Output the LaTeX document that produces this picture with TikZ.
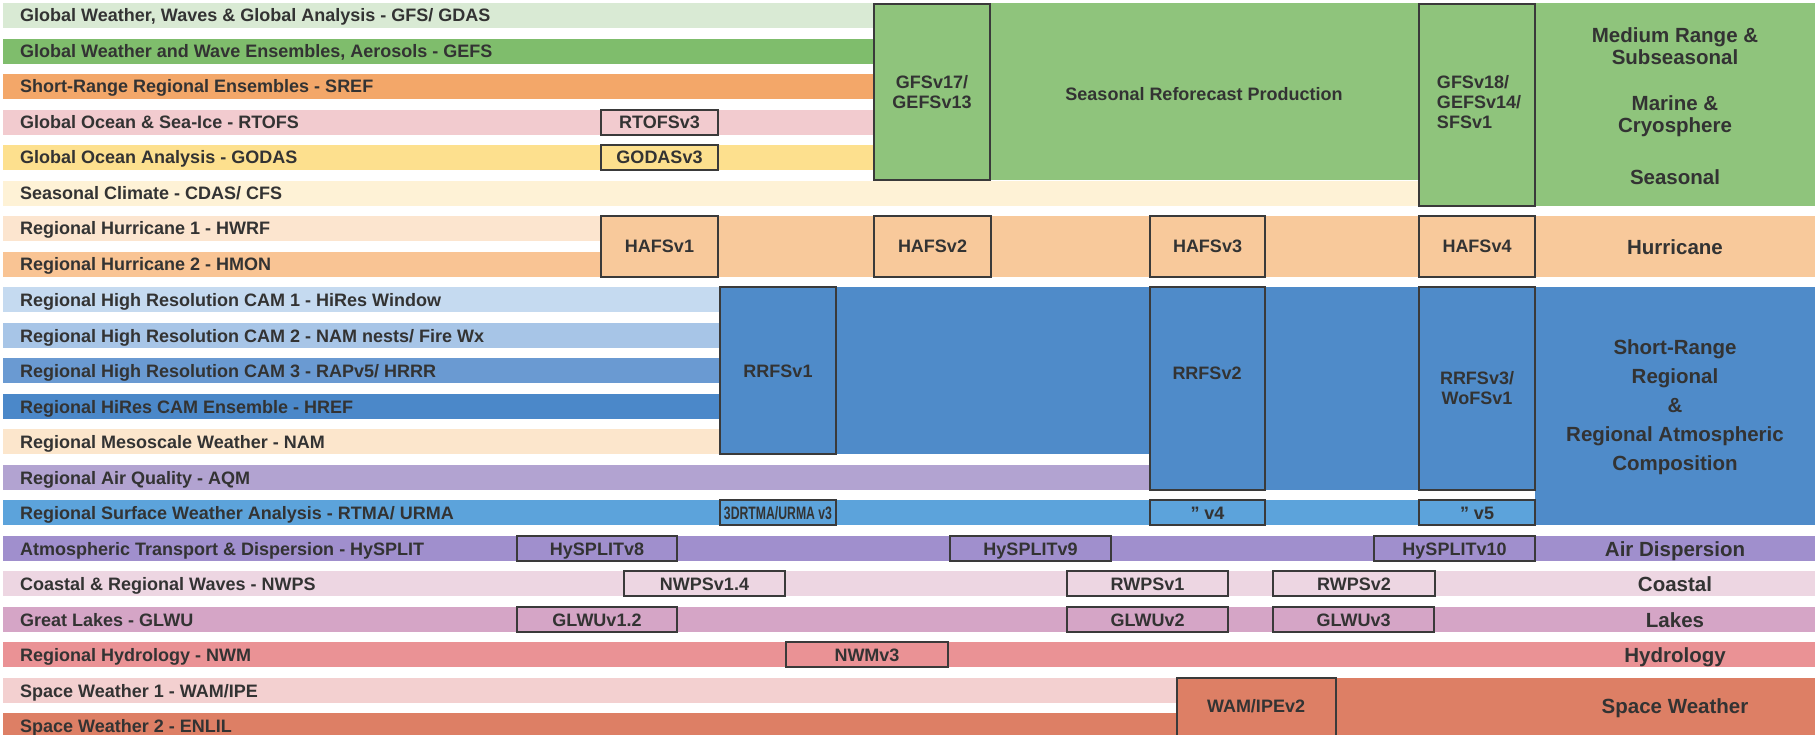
\documentclass[tikz,border=0pt]{standalone}
\usepackage{fontspec}
\setmainfont{Liberation Sans}
\usepackage{graphicx}
\usepackage{tikz}
\usetikzlibrary{fit}

\definecolor{txt}{HTML}{333333}
\definecolor{edge}{HTML}{3A3A3A}
\definecolor{cGfs}{HTML}{D9EAD4}
\definecolor{cGefs}{HTML}{7FBD6C}
\definecolor{cSref}{HTML}{F3A769}
\definecolor{cRtofs}{HTML}{F2CBCF}
\definecolor{cGodas}{HTML}{FDE08E}
\definecolor{cCfs}{HTML}{FEF2D6}
\definecolor{cHwrf}{HTML}{FCE5CF}
\definecolor{cHmon}{HTML}{F9C494}
\definecolor{cHires}{HTML}{C5DAF0}
\definecolor{cNest}{HTML}{A7C5E7}
\definecolor{cRap}{HTML}{6A9AD2}
\definecolor{cHref}{HTML}{4B88C9}
\definecolor{cNam}{HTML}{FCE6CC}
\definecolor{cAqm}{HTML}{B2A3D1}
\definecolor{cRtma}{HTML}{5CA3DB}
\definecolor{cHysplit}{HTML}{A08FCD}
\definecolor{cNwps}{HTML}{EDD6E2}
\definecolor{cGlwu}{HTML}{D5A5C6}
\definecolor{cNwm}{HTML}{EA9295}
\definecolor{cWam}{HTML}{F3D0D0}
\definecolor{cEnlil}{HTML}{DD7F65}
\definecolor{cGreen}{HTML}{8FC47C}
\definecolor{cPeach}{HTML}{F8C99B}
\definecolor{cBlue}{HTML}{4F8BC9}

\begin{document}
\begin{tikzpicture}[x=1pt,y=-1pt,
    lbl/.style={anchor=west,inner sep=0pt,text=txt,font=\bfseries\fontsize{18}{20}\selectfont,text height=13pt,text depth=0pt},
    cat/.style={align=center,inner sep=0pt,text=txt,font=\bfseries\fontsize{20.5}{22}\selectfont},
    catone/.style={inner sep=0pt,text=txt,font=\bfseries\fontsize{20.5}{22}\selectfont,text height=15pt,text depth=0pt},
    vbox/.style={draw=edge,line width=2pt,inner sep=0pt},
    vtext/.style={inner sep=0pt,text=txt,font=\bfseries\fontsize{18}{20}\selectfont,text height=13pt,text depth=0pt},
    vlines/.style={inner sep=0pt,text=txt,font=\bfseries\fontsize{18}{20}\selectfont}]

    \useasboundingbox (0,0) rectangle (1815,735);
    \fill[white] (0,0) rectangle (1815,735);

    % global rows and the green block
    \fill[cGfs] (3,3) rectangle (874,28);
    \fill[cGefs] (3,39) rectangle (874,64);
    \fill[cSref] (3,74) rectangle (874,99);
    \fill[cRtofs] (3,110) rectangle (874,135);
    \fill[cGodas] (3,145) rectangle (874,170);
    \fill[cCfs] (3,181) rectangle (1419,206);
    \fill[cGreen] (874,3) rectangle (1815,180);
    \fill[cGreen] (1419,3) rectangle (1815,206);

    % hurricane rows
    \fill[cHwrf] (3,216) rectangle (601,241);
    \fill[cHmon] (3,252) rectangle (601,277);
    \fill[cPeach] (601,216) rectangle (1815,277);

    % regional rows and the blue block
    \fill[cHires] (3,287) rectangle (720,312);
    \fill[cNest] (3,323) rectangle (720,348);
    \fill[cRap] (3,358) rectangle (720,383);
    \fill[cHref] (3,394) rectangle (720,419);
    \fill[cNam] (3,429) rectangle (720,454);
    \fill[cBlue] (720,287) rectangle (1815,454);
    \fill[cBlue] (1150,287) rectangle (1815,490);
    \fill[cBlue] (1535,287) rectangle (1815,525);
    \fill[cAqm] (3,465) rectangle (1150,490);
    \fill[cRtma] (3,500) rectangle (1535,525);

    % full width rows
    \fill[cHysplit] (3,536) rectangle (1815,561);
    \fill[cNwps] (3,571) rectangle (1815,596);
    \fill[cGlwu] (3,607) rectangle (1815,632);
    \fill[cNwm] (3,642) rectangle (1815,667);

    % space weather
    \fill[cWam] (3,678) rectangle (1177,703);
    \fill[cEnlil] (3,713) rectangle (1177,735);
    \fill[cEnlil] (1177,678) rectangle (1815,735);

    % version boxes
    \node[vbox,fit={(874,4) (990,180)},label={[vlines,align=center]center:GFSv17/\\GEFSv13}] (gfs17) {};
    \node[vbox,fit={(1419,4) (1535,206)}] (gfs18) {};
    \node[vbox,fit={(601,110) (718,135)},label={[vtext]center:RTOFSv3}] (rtofs3) {};
    \node[vbox,fit={(601,145) (718,170)},label={[vtext]center:GODASv3}] (godas3) {};
    \node[vbox,fit={(601,216) (718,277)},label={[vtext]center:HAFSv1}] (hafs1) {};
    \node[vbox,fit={(874,216) (991,277)},label={[vtext]center:HAFSv2}] (hafs2) {};
    \node[vbox,fit={(1150,216) (1265,277)},label={[vtext]center:HAFSv3}] (hafs3) {};
    \node[vbox,fit={(1419,216) (1535,277)},label={[vtext]center:HAFSv4}] (hafs4) {};
    \node[vbox,fit={(720,287) (836,454)},label={[vtext]center:RRFSv1}] (rrfs1) {};
    \node[vbox,fit={(1150,287) (1265,490)}] (rrfs2) {};
    \node[vbox,fit={(1419,287) (1535,490)},label={[vlines,align=center]center:RRFSv3/\\WoFSv1}] (rrfs3) {};
    \node[vbox,fit={(720,500) (836,525)},label={[vtext]center:\scalebox{0.68}[1]{3DRTMA/URMA v3}}] (rtma3) {};
    \node[vbox,fit={(1150,500) (1265,525)},label={[vtext]center:" v4}] (rtma4) {};
    \node[vbox,fit={(1419,500) (1535,525)},label={[vtext]center:" v5}] (rtma5) {};
    \node[vbox,fit={(517,536) (677,561)},label={[vtext]center:HySPLITv8}] (hys8) {};
    \node[vbox,fit={(950,536) (1111,561)},label={[vtext]center:HySPLITv9}] (hys9) {};
    \node[vbox,fit={(1374,536) (1535,561)},label={[vtext]center:HySPLITv10}] (hys10) {};
    \node[vbox,fit={(624,571) (785,596)},label={[vtext]center:NWPSv1.4}] (nwps14) {};
    \node[vbox,fit={(1067,571) (1228,596)},label={[vtext]center:RWPSv1}] (rwps1) {};
    \node[vbox,fit={(1273,571) (1435,596)},label={[vtext]center:RWPSv2}] (rwps2) {};
    \node[vbox,fit={(517,607) (677,632)},label={[vtext]center:GLWUv1.2}] (glwu12) {};
    \node[vbox,fit={(1067,607) (1228,632)},label={[vtext]center:GLWUv2}] (glwu2) {};
    \node[vbox,fit={(1273,607) (1434,632)},label={[vtext]center:GLWUv3}] (glwu3) {};
    \node[vbox,fit={(786,642) (948,667)},label={[vtext]center:NWMv3}] (nwm3) {};
    \node[vbox,fit={(1177,678) (1336,745)}] (wam2) {};

    % texts placed off the box centre
    \node[vlines,align=left] (gfs18t) at (1479,102) {GFSv18/\\GEFSv14/\\SFSv1};
    \node[vtext] (rrfs2t) at (1207,373) {RRFSv2};
    \node[vtext] (wam2t) at (1256,706) {WAM/IPEv2};
    \node[vtext] (refc) at (1204,94) {Seasonal Reforecast Production};

    % row labels
    \node[lbl] (t1) at (20,15.5) {Global Weather, Waves \& Global Analysis - GFS/ GDAS};
    \node[lbl] (t2) at (20,51.5) {Global Weather and Wave Ensembles, Aerosols - GEFS};
    \node[lbl] (t3) at (20,86.5) {Short-Range Regional Ensembles - SREF};
    \node[lbl] (t4) at (20,122.5) {Global Ocean \& Sea-Ice - RTOFS};
    \node[lbl] (t5) at (20,157.5) {Global Ocean Analysis - GODAS};
    \node[lbl] (t6) at (20,193.5) {Seasonal Climate - CDAS/ CFS};
    \node[lbl] (t7) at (20,228.5) {Regional Hurricane 1 - HWRF};
    \node[lbl] (t8) at (20,264.5) {Regional Hurricane 2 - HMON};
    \node[lbl] (t9) at (20,299.5) {Regional High Resolution CAM 1 - HiRes Window};
    \node[lbl] (t10) at (20,335.5) {Regional High Resolution CAM 2 - NAM nests/ Fire Wx};
    \node[lbl] (t11) at (20,370.5) {Regional High Resolution CAM 3 - RAPv5/ HRRR};
    \node[lbl] (t12) at (20,406.5) {Regional HiRes CAM Ensemble - HREF};
    \node[lbl] (t13) at (20,441.5) {Regional Mesoscale Weather - NAM};
    \node[lbl] (t14) at (20,477.5) {Regional Air Quality - AQM};
    \node[lbl] (t15) at (20,512.5) {Regional Surface Weather Analysis - RTMA/ URMA};
    \node[lbl] (t16) at (20,548.5) {Atmospheric Transport \& Dispersion - HySPLIT};
    \node[lbl] (t17) at (20,583.5) {Coastal \& Regional Waves - NWPS};
    \node[lbl] (t18) at (20,619.5) {Great Lakes - GLWU};
    \node[lbl] (t19) at (20,654.5) {Regional Hydrology - NWM};
    \node[lbl] (t20) at (20,690.5) {Space Weather 1 - WAM/IPE};
    \node[lbl] (t21) at (20,725.5) {Space Weather 2 - ENLIL};

    % categories on the right
    \node[cat] (medium) at (1675,46) {Medium Range \&\\Subseasonal};
    \node[cat] (marine) at (1675,116) {Marine \&\\Cryosphere};
    \node[catone] (seasonal) at (1675,177) {Seasonal};
    \node[catone] (hurr) at (1675,247) {Hurricane};
    \node[cat,font=\bfseries\fontsize{20.5}{29}\selectfont] (short) at (1675,407) {Short-Range\\Regional\\\&\\Regional Atmospheric\\Composition};
    \node[catone] (air) at (1675,548.5) {Air Dispersion};
    \node[catone] (coast) at (1675,583.5) {Coastal};
    \node[catone] (lakes) at (1675,619.5) {Lakes};
    \node[catone] (hydro) at (1675,654.5) {Hydrology};
    \node[catone] (space) at (1675,706) {Space Weather};

\end{tikzpicture}
\end{document}
